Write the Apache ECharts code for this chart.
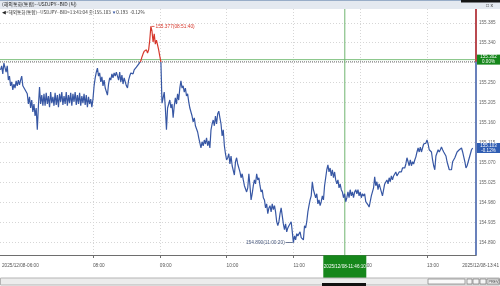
<!DOCTYPE html>
<html><head><meta charset="utf-8">
<script src="https://cdn.jsdelivr.net/npm/echarts@6/dist/echarts.min.js"></script>
<style>html,body{margin:0;padding:0;background:#fff;}#c{width:500px;height:286px;}</style>
</head><body><div id="c"></div>
<script>
// ---- reference values ----
const BASE = 155.297;          // previous close (dotted line)
const LAST_PRICE = 155.103;    // close 13:41:04
const CROSS_PRICE = 155.302;   // crosshair price
const CROSS_TIME = '11:46:10'; // crosshair time
const HIGH_PRICE = 155.377, HIGH_TIME = '08:51:40';
const LOW_PRICE = 154.890, LOW_TIME = '11:00:20';
const X_START = '06:36:30', X_END = '13:44:00';
const Y_MIN = 154.862, Y_MAX = 155.416;
const yTicks = [154.890, 154.935, 154.980, 155.025, 155.070, 155.115, 155.160, 155.205, 155.250, 155.295, 155.340, 155.385];
const xTicks = ['08:00', '09:00', '10:00', '11:00', '12:00', '13:00'];
const startLabel = '2025/12/08-06:00', endLabel = '2025/12/08-13:41', crossLabel = '2025/12/08-11:46:10';

// one-minute prices, grouped by hour (first minute of each group given)
const hour06 = [155.279,155.288,155.270,155.294,155.296,155.274,155.288,155.256,155.265,155.243,155.252,155.234,155.247,155.238,155.254,155.243,155.256,155.245,155.256,155.265,155.243,155.247,155.234];
const hour07 = [155.238,155.225,155.202,155.218,155.193,155.211,155.184,155.202,155.175,155.193,155.144,155.198,155.240,155.202,155.222,155.198,
  155.225,155.198,155.227,155.202,155.220,155.195,155.229,155.204,155.218,155.198,155.227,155.200,155.222,155.195,155.225,155.207,155.229,155.200,155.220,155.202,155.229,155.198,155.222,155.204,155.227,155.198,155.225,155.207,155.229,155.200,155.222,155.202,155.227,155.198,155.220,155.204,155.225,155.200,155.222,155.195,155.218,155.202,155.213,155.195];
const hour08 = [155.213,155.243,155.261,155.274,155.283,155.265,155.272,155.252,155.263,155.243,
  155.256,155.238,155.234,155.222,155.247,155.261,155.256,155.270,155.261,155.272,
  155.265,155.274,155.265,155.256,155.274,155.252,155.267,155.247,155.261,155.252,
  155.243,155.238,155.256,155.265,155.272,155.274,155.270,155.279,155.276,155.285,
  155.283,155.292,155.290,155.299,155.308,155.315,155.321,155.317,155.324,155.317,
  155.324,155.346,155.377,155.366,155.342,155.360,155.337,155.346,155.335,155.324];
const hour09 = [155.310,155.297,155.204,155.216,155.229,155.193,155.144,155.193,155.202,155.211,
  155.193,155.202,155.171,155.198,155.216,155.202,155.225,155.211,155.238,155.254,
  155.238,155.243,155.229,155.238,155.220,155.225,155.207,155.193,155.184,155.175,
  155.162,155.171,155.153,155.157,155.139,155.126,155.130,155.103,155.117,155.108,
  155.121,155.112,155.126,155.108,155.119,155.103,155.144,155.157,155.166,155.153,
  155.175,155.157,155.180,155.186,155.171,155.157,155.130,155.144,155.108,155.090];
const hour10 = [155.076,155.081,155.090,155.067,155.085,155.063,155.067,155.042,155.072,155.081,
  155.067,155.063,155.049,155.036,155.045,155.031,155.018,155.022,155.004,155.013,
  155.045,155.018,154.986,155.000,155.018,155.031,155.022,155.045,155.031,155.036,
  155.018,155.004,155.009,154.991,154.986,154.968,154.977,154.955,154.968,154.973,
  154.959,154.977,154.964,154.973,154.959,154.937,154.928,154.937,154.955,154.968,
  154.950,154.932,154.919,154.932,154.914,154.923,154.928,154.928,154.937,154.914];
const hour11 = [154.890,154.905,154.896,154.910,154.905,154.901,154.914,154.901,154.905,154.896,
  154.928,154.923,154.937,154.959,154.973,154.986,154.995,155.027,155.009,155.013,
  154.991,155.000,154.977,154.986,154.973,154.982,154.995,154.986,155.018,155.036,
  155.054,155.065,155.049,155.058,155.040,155.054,155.036,155.049,155.031,155.022,
  155.031,155.013,155.022,155.009,155.004,154.991,155.000,154.982,154.991,155.004,
  154.991,155.009,154.995,155.004,154.991,155.004,155.009,155.000,155.009,154.995];
const hour12 = [155.004,154.991,155.000,154.995,155.000,154.982,154.986,154.975,154.970,154.982,
  154.995,155.004,155.013,155.038,155.018,155.027,155.009,155.022,155.013,155.004,
  154.995,154.993,155.022,155.018,155.031,155.022,155.036,155.027,155.040,155.031,
  155.040,155.036,155.049,155.040,155.040,155.049,155.045,155.049,155.058,155.054,
  155.058,155.067,155.081,155.072,155.063,155.076,155.063,155.072,155.067,155.076,
  155.083,155.094,155.103,155.094,155.105,155.094,155.103,155.112,155.108,155.114];
const hour13 = [155.121,155.112,155.099,155.103,155.094,155.076,155.063,155.054,155.085,155.085,
  155.099,155.094,155.099,155.105,155.099,155.094,155.090,155.085,155.072,155.063,
  155.054,155.058,155.054,155.072,155.076,155.081,155.085,155.094,155.090,155.099,
  155.099,155.103,155.094,155.083,155.072,155.058,155.063,155.072,155.081,155.090,
  155.099,155.103];
const hourGroups = [['06:37', hour06], ['07:00', hour07], ['08:00', hour08], ['09:00', hour09],
  ['10:00', hour10], ['11:00', hour11], ['12:00', hour12], ['13:00', hour13]];

// ---- helpers ----
function toMin(s) { const p = s.split(':').map(Number); return p[0] * 60 + p[1] + (p[2] || 0) / 60; }
function fmt(m) { const h = Math.floor(m / 60), mm = Math.round(m - h * 60); return String(h).padStart(2, '0') + ':' + String(mm).padStart(2, '0'); }
const data = [];
hourGroups.forEach(([t, arr]) => { const m0 = toMin(t); arr.forEach((v, i) => data.push([m0 + i, v])); });

const BLUE = '#3757a4', RED = '#d6382c', GREEN = '#16871b';
const FONT = '"Liberation Sans", Arial, sans-serif';
const KFONT = '"Noto Sans CJK KR", "Liberation Sans", sans-serif';
const xMin = toMin(X_START), xMax = toMin(X_END);
const xTickVals = xTicks.map(toMin);
const crossT = toMin(CROSS_TIME);

function refLine(points, color, type, z) {
  return { type: 'line', data: points, showSymbol: false, symbol: 'none', silent: true, z: z,
    lineStyle: { color: color, width: 1, type: type }, itemStyle: { color: color } };
}

const chart = echarts.init(document.getElementById('c'), null, { renderer: 'canvas' });
chart.setOption({
  animation: false,
  grid: { left: 0, right: 24, top: 9, bottom: 31 },
  xAxis: {
    type: 'value', min: xMin, max: xMax,
    axisLine: { show: true, lineStyle: { color: '#6e6e6e', width: 1 } },
    axisTick: { show: true, customValues: xTickVals, length: 3, lineStyle: { color: '#6e6e6e' } },
    axisLabel: { customValues: xTickVals, formatter: v => fmt(v), align: 'left', margin: 8, fontSize: 4.7, color: '#555', fontFamily: FONT },
    splitLine: { show: true, lineStyle: { color: '#d6d6d6', type: [1, 2], width: 1 } }
  },
  yAxis: {
    type: 'value', position: 'right', min: Y_MIN, max: Y_MAX,
    axisLine: { show: true, lineStyle: { color: BLUE, width: 1.5 } },
    axisTick: { show: false, customValues: yTicks },
    axisLabel: { customValues: yTicks, formatter: v => v.toFixed(3), fontSize: 4.6, color: '#666', margin: 3, fontFamily: FONT },
    splitLine: { show: true, lineStyle: { color: '#d6d6d6', type: [1, 2], width: 1 } }
  },
  visualMap: { show: false, type: 'piecewise', dimension: 1, seriesIndex: 0,
    pieces: [{ gte: 150, lt: BASE, color: BLUE }, { gte: BASE, lt: 160, color: RED }] },
  series: [
    {
      type: 'line', data: data, showSymbol: false, symbol: 'none', z: 4,
      lineStyle: { width: 1.2 },
      markPoint: {
        silent: true, animation: false,
        data: [
          { coord: [toMin(HIGH_TIME), HIGH_PRICE], symbol: 'rect', symbolSize: [3, 0.8], symbolOffset: [2.5, 0],
            itemStyle: { color: RED },
            label: { show: true, position: 'right', distance: 1, formatter: HIGH_PRICE.toFixed(3) + '(' + HIGH_TIME + ')', color: RED, fontSize: 4.8, fontFamily: FONT } },
          { coord: [toMin(LOW_TIME), LOW_PRICE], symbol: 'rect', symbolSize: [7, 0.8], symbolOffset: [-4.5, 0],
            itemStyle: { color: '#4a5a7e' },
            label: { show: true, position: 'left', distance: 1, formatter: LOW_PRICE.toFixed(3) + '(' + LOW_TIME + ')', color: '#4a5a7e', fontSize: 4.8, fontFamily: FONT } }
        ]
      }
    },
    {
      type: 'line', data: [[xMax, BASE], [xMax, Y_MAX]], showSymbol: false, symbol: 'none', clip: false, z: 6,
      lineStyle: { color: RED, width: 1.5 }, itemStyle: { color: RED }, silent: true,
      markPoint: {
        silent: true, animation: false,
        data: [
          { coord: [xMax, CROSS_PRICE], symbol: 'rect', symbolSize: [23, 10], symbolOffset: [12.5, 0], itemStyle: { color: GREEN },
            label: { show: true, position: 'inside', formatter: CROSS_PRICE.toFixed(3) + '\n0.00%', color: '#fff', fontSize: 4.5, lineHeight: 4.8, fontFamily: FONT } },
          { coord: [xMax, LAST_PRICE], symbol: 'rect', symbolSize: [23, 10], symbolOffset: [12.5, 0], itemStyle: { color: '#2f5db3' },
            label: { show: true, position: 'inside', formatter: LAST_PRICE.toFixed(3) + '\n-0.12%', color: '#fff', fontSize: 4.5, lineHeight: 4.8, fontFamily: FONT } },
          { coord: [crossT, Y_MIN], symbol: 'rect', symbolSize: [43, 23], symbolOffset: [0, 11.8], itemStyle: { color: GREEN },
            label: { show: true, position: 'inside', formatter: crossLabel, color: '#fff', fontSize: 4.6, fontFamily: FONT } }
        ]
      }
    },
    refLine([[xMin, BASE], [xMax, BASE]], '#6a6a6a', [1, 1], 3),
    refLine([[xMin, CROSS_PRICE], [xMax, CROSS_PRICE]], '#7fc27f', 'solid', 3),
    refLine([[crossT, Y_MIN], [crossT, Y_MAX]], '#6fb46f', 'solid', 3)
  ],
  graphic: [
    { type: 'rect', shape: { x: 0, y: 0, width: 500, height: 9 }, style: { fill: '#e4e9f0' }, z: 10, silent: true },
    { type: 'rect', shape: { x: 0, y: 0, width: 500, height: 0.8 }, style: { fill: '#7f99bb' }, z: 11, silent: true },
    { type: 'rect', shape: { x: 461, y: 0, width: 39, height: 2.5 }, style: { fill: '#151515' }, z: 11, silent: true },
    { type: 'text', x: 486, y: 3, style: { text: '□ x', fontSize: 5, fill: '#333', fontFamily: FONT }, z: 11, silent: true },
    { type: 'text', x: 2, y: 2, style: { text: '(해외통화(통합)--USDJPY--BID (틱)', fontSize: 5, fill: '#222', fontFamily: KFONT }, z: 11, silent: true },
    { type: 'text', x: 2, y: 10, z: 11, silent: true,
      style: { text: '{a|◀}{b|<해외통화(통합)--USDJPY--BID>13:41:04 종:155.103 }{c|▼}{b|0.193  -0.12%}',
        rich: { a: { fontSize: 4.5, fill: '#222' }, b: { fontSize: 4.6, fill: '#333', fontFamily: KFONT }, c: { fontSize: 4.6, fill: BLUE } },
        fontFamily: KFONT } },
    { type: 'text', x: 2, y: 263.5, style: { text: startLabel, fontSize: 4.7, fill: '#555', fontFamily: FONT }, z: 11, silent: true },
    { type: 'text', x: 499, y: 263.5, style: { text: endLabel, fontSize: 4.7, fill: '#555', fontFamily: FONT, align: 'right' }, z: 11, silent: true },
    { type: 'rect', shape: { x: 0.5, y: 278, width: 499, height: 7 }, style: { fill: '#ececec', stroke: '#b4b4b4', lineWidth: 1 }, z: 10, silent: true },
    { type: 'rect', shape: { x: 428, y: 279, width: 37, height: 5 }, style: { fill: '#fafafa', stroke: '#8a8a8a', lineWidth: 0.8 }, z: 11, silent: true },
    { type: 'rect', shape: { x: 467, y: 279, width: 5, height: 5 }, style: { fill: '#f5f5f5', stroke: '#666', lineWidth: 0.6 }, z: 11, silent: true },
    { type: 'rect', shape: { x: 473, y: 279, width: 6, height: 5 }, style: { fill: '#f5f5f5', stroke: '#666', lineWidth: 0.6 }, z: 11, silent: true },
    { type: 'rect', shape: { x: 480, y: 279, width: 6, height: 5 }, style: { fill: '#f5f5f5', stroke: '#666', lineWidth: 0.6 }, z: 11, silent: true },
    { type: 'rect', shape: { x: 487, y: 279, width: 12, height: 5 }, style: { fill: '#f5f5f5', stroke: '#666', lineWidth: 0.6 }, z: 11, silent: true },
    { type: 'text', x: 488.5, y: 279.6, style: { text: 'PREV', fontSize: 3.6, fill: '#222', fontFamily: FONT }, z: 12, silent: true },
    { type: 'rect', shape: { x: 322, y: 283, width: 44, height: 3 }, style: { fill: '#111' }, z: 12, silent: true }
  ]
});
</script></body></html>
